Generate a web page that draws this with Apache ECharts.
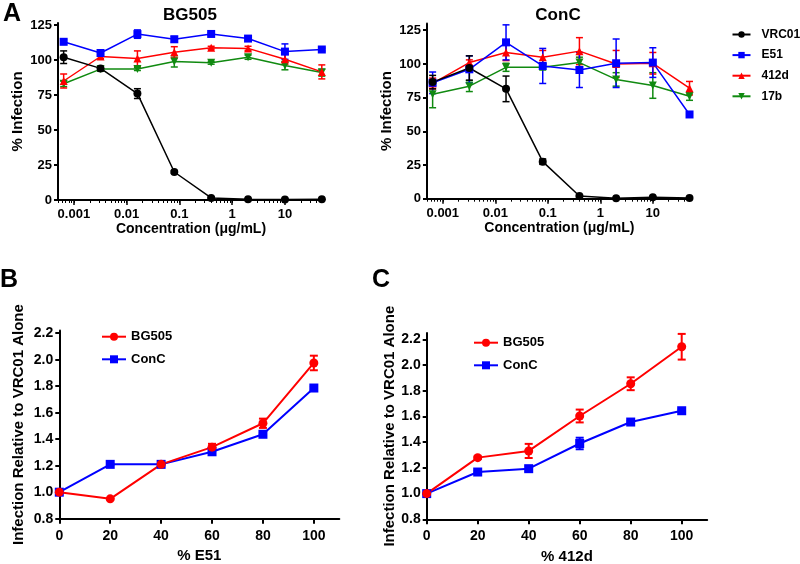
<!DOCTYPE html>
<html><head><meta charset="utf-8">
<script src="https://cdn.jsdelivr.net/npm/echarts@6/dist/echarts.min.js"></script>
<style>html,body{margin:0;padding:0;background:#fff}#c{width:800px;height:564px}</style>
</head><body><div id="c"></div>
<script>
// ---------- DATA ----------
const concentrations = [0.00064, 0.0032, 0.016, 0.08, 0.4, 2, 10, 50];
const antibodies = ['VRC01', 'E51', '412d', '17b'];

// Panel A, BG505 (% infection, mean and SEM)
const bg505_VRC01 = [102, 94, 76, 20, 1.5, 0.5, 0.3, 0.5];
const bg505_VRC01_err = [4.5, 1.5, 3.5, 1, 0.5, 0.3, 0.3, 0.3];
const bg505_E51 = [113, 105, 118.5, 114.8, 118.6, 115.3, 106, 107.5];
const bg505_E51_err = [1.5, 1.5, 3, 2, 1, 1.5, 5.5, 1];
const bg505_412d = [85, 102.5, 101, 105.5, 108.8, 108.3, 100.5, 91.5];
const bg505_412d_err = [5, 1.5, 5.5, 4, 1, 1.5, 3.5, 5];
const bg505_17b = [83, 93.5, 93.5, 99, 98, 102, 96, 91];
const bg505_17b_err = [2, 1.5, 1, 4, 1, 1.5, 3, 2.5];

// Panel A, ConC
const conc_VRC01 = [86.5, 97, 81.5, 27.5, 2, 0.3, 1, 0.5];
const conc_VRC01_err = [5, 9, 9.5, 2, 0.5, 0.3, 0.3, 0.3];
const conc_E51 = [86, 96, 116, 98.5, 95.5, 100.5, 101, 62.5];
const conc_E51_err = [8, 10, 13, 13, 13, 18, 11, 1.5];
const conc_412d = [85.5, 101, 108.5, 105, 109.5, 100, 100.5, 82];
const conc_412d_err = [4, 2, 6, 5, 10, 10, 8, 5];
const conc_17b = [77.5, 83.5, 97.5, 97.5, 101, 88.5, 84, 76];
const conc_17b_err = [10, 4, 3, 2, 4, 5, 9.5, 3];

// Panels B and C
const percents = [0, 20, 40, 60, 80, 100];
const e51_BG505 = [1.0, 0.95, 1.21, 1.34, 1.52, 1.975];
const e51_BG505_err = [0, 0.005, 0.01, 0.025, 0.035, 0.055];
const e51_ConC = [1.0, 1.21, 1.21, 1.305, 1.437, 1.786];
const e51_ConC_err = [0, 0.005, 0.005, 0.01, 0.01, 0.01];
const d412_BG505 = [1.0, 1.28, 1.332, 1.604, 1.855, 2.143];
const d412_BG505_err = [0, 0.01, 0.055, 0.05, 0.05, 0.1];
const d412_ConC = [1.0, 1.168, 1.194, 1.39, 1.557, 1.645];
const d412_ConC_err = [0, 0.01, 0.02, 0.045, 0.01, 0.01];

// Tick values / labels
const yTicksA = [0, 25, 50, 75, 100, 125];
const xTicksA = [0.001, 0.01, 0.1, 1, 10];
const xTickLabelsA = ['0.001', '0.01', '0.1', '1', '10'];
const xMinorTicksA = [];
[0.0001, 0.001, 0.01, 0.1, 1, 10].forEach(d => { for (let m = 2; m <= 9; m++) xMinorTicksA.push(+(d * m).toPrecision(3)); });
const xAllTicksA = xTicksA.concat(xMinorTicksA).sort((a, b) => a - b);
const yTicksBC = [0.8, 1.0, 1.2, 1.4, 1.6, 1.8, 2.0, 2.2];
const yTickLabelsBC = ['0.8', '1.0', '1.2', '1.4', '1.6', '1.8', '2.0', '2.2'];
const xTicksBC = [0, 20, 40, 60, 80, 100];

// ---------- STYLE ----------
const FONT = '"Liberation Sans", Arial, Helvetica, sans-serif';
const COLORS = { VRC01: '#000000', E51: '#0000ff', '412d': '#ff0000', '17b': '#108a10', BG505: '#ff0000', ConC: '#0000ff' };
const SYMBOLS = { VRC01: ['circle', 0], E51: ['rect', 0], '412d': ['triangle', 0], '17b': ['triangle', 180], BG505: ['circle', 0], ConC: ['rect', 0] };

const chart = echarts.init(document.getElementById('c'), null, { renderer: 'canvas' });

const labelStyle = (fs) => ({ fontSize: fs, fontWeight: 'bold', color: '#000', fontFamily: FONT });
const axisLineStyle = { color: '#000', width: 2 };

function logLabel(v) {
  for (let i = 0; i < xTicksA.length; i++) {
    if (v > 0 && Math.abs(Math.log10(v) - Math.log10(xTicksA[i])) < 0.01) return xTickLabelsA[i];
    if (Math.abs(v - Math.log10(xTicksA[i])) < 0.01) return xTickLabelsA[i];
  }
  return '';
}

const xAxes = [];
const yAxes = [];
const grids = [
  { left: 58, top: 22.9, width: 266, height: 177.1 },
  { left: 427, top: 23.5, width: 264.7, height: 175.2 },
  { left: 59.3, top: 330.5, width: 280, height: 188.2 },
  { left: 426.7, top: 333, width: 280.5, height: 186.3 }
].map(g => Object.assign({ containLabel: false, outerBoundsMode: 'none', show: false }, g));

// Panel A axes
[[0, 126.5], [1, 130]].forEach(([gi, ymax]) => {
  xAxes.push({
    type: 'log', logBase: 10, gridIndex: gi, min: 0.0005, max: 55, position: 'bottom',
    name: 'Concentration (\u03bcg/mL)', nameLocation: 'middle', nameGap: 22, nameTextStyle: labelStyle(14),
    axisLine: { show: true, onZero: false, lineStyle: axisLineStyle },
    axisTick: { show: true, customValues: xAllTicksA, length: 3, lineStyle: { color: '#000', width: 1 } },
    axisLabel: { show: true, customValues: xTicksA, formatter: logLabel, margin: 8, hideOverlap: false, ...labelStyle(13) },
    splitLine: { show: false }, minorTick: { show: false }
  });
  xAxes.push({
    type: 'log', logBase: 10, gridIndex: gi, min: 0.0005, max: 55, position: 'bottom', offset: 0,
    axisLine: { show: false, onZero: false },
    axisTick: { show: true, customValues: xTicksA, length: 5, lineStyle: { color: '#000', width: 1.5 } },
    axisLabel: { show: false }, splitLine: { show: false }
  });
  yAxes.push({
    type: 'value', gridIndex: gi, min: 0, max: ymax,
    name: '% Infection', nameLocation: 'middle', nameGap: 33, nameTextStyle: labelStyle(15),
    axisLine: { show: true, onZero: false, lineStyle: axisLineStyle },
    axisTick: { show: true, customValues: yTicksA, length: 4, lineStyle: { color: '#000', width: 2 } },
    axisLabel: { show: true, customValues: yTicksA, margin: 6, ...labelStyle(13) },
    splitLine: { show: false }
  });
});

// Panels B, C axes
[[2, 2.22, '% E51', 33], [3, 2.25, '% 412d', 29]].forEach(([gi, ymax, xname, ygap]) => {
  xAxes.push({
    type: 'value', gridIndex: gi, min: 0, max: 110, position: 'bottom',
    name: xname, nameLocation: 'middle', nameGap: 30, nameTextStyle: labelStyle(15),
    axisLine: { show: true, onZero: false, lineStyle: axisLineStyle },
    axisTick: { show: true, customValues: xTicksBC, length: 5, lineStyle: { color: '#000', width: 2 } },
    axisLabel: { show: true, customValues: xTicksBC, margin: 10, ...labelStyle(14) },
    splitLine: { show: false }
  });
  yAxes.push({
    type: 'value', gridIndex: gi, min: 0.8, max: ymax,
    name: 'Infection Relative to VRC01 Alone', nameLocation: 'middle', nameGap: ygap, nameTextStyle: labelStyle(15),
    axisLine: { show: true, onZero: false, lineStyle: axisLineStyle },
    axisTick: { show: true, customValues: yTicksBC, length: 4, lineStyle: { color: '#000', width: 2 } },
    axisLabel: { show: true, customValues: yTicksBC, margin: 6, ...labelStyle(14),
      formatter: v => { const i = yTicksBC.findIndex(t => Math.abs(t - v) < 1e-6); return i >= 0 ? yTickLabelsBC[i] : ''; } },
    splitLine: { show: false }
  });
});

function errRender(capW, lw) {
  return function (params, api) {
    const x = api.value(0), lo = api.value(1), hi = api.value(2);
    const p1 = api.coord([x, lo]), p2 = api.coord([x, hi]);
    const style = { stroke: api.visual('color'), lineWidth: lw };
    return {
      type: 'group', children: [
        { type: 'line', shape: { x1: p1[0], y1: p1[1], x2: p2[0], y2: p2[1] }, style },
        { type: 'line', shape: { x1: p1[0] - capW, y1: p1[1], x2: p1[0] + capW, y2: p1[1] }, style },
        { type: 'line', shape: { x1: p2[0] - capW, y1: p2[1], x2: p2[0] + capW, y2: p2[1] }, style }
      ]
    };
  };
}

const series = [];
function addSeries(name, xs, ys, errs, xIdx, yIdx, symSize, lw, capW) {
  const color = COLORS[name];
  series.push({
    type: 'custom', name: name + ' error', xAxisIndex: xIdx, yAxisIndex: yIdx,
    itemStyle: { color }, renderItem: errRender(capW, lw), clip: false, z: 2, silent: true,
    encode: { x: 0, y: [1, 2] },
    data: xs.map((x, i) => [x, ys[i] - errs[i], ys[i] + errs[i]])
  });
  series.push({
    type: 'line', name, xAxisIndex: xIdx, yAxisIndex: yIdx,
    symbol: SYMBOLS[name][0], symbolRotate: SYMBOLS[name][1], symbolSize: symSize,
    showAllSymbol: true, animation: false, z: 3,
    itemStyle: { color, opacity: 1 }, lineStyle: { color, width: lw },
    data: xs.map((x, i) => [x, ys[i]])
  });
}

// Panel A: draw 17b, 412d, E51, VRC01 (black on top)
const panelA = [
  { x: 0, y: 0, d: { VRC01: [bg505_VRC01, bg505_VRC01_err], E51: [bg505_E51, bg505_E51_err], '412d': [bg505_412d, bg505_412d_err], '17b': [bg505_17b, bg505_17b_err] } },
  { x: 2, y: 1, d: { VRC01: [conc_VRC01, conc_VRC01_err], E51: [conc_E51, conc_E51_err], '412d': [conc_412d, conc_412d_err], '17b': [conc_17b, conc_17b_err] } }
];
panelA.forEach(p => {
  ['17b', '412d', 'E51', 'VRC01'].forEach(ab => {
    addSeries(ab, concentrations, p.d[ab][0], p.d[ab][1], p.x, p.y, 8, 1.5, 3.5);
  });
});
// Panels B, C
addSeries('ConC', percents, e51_ConC, e51_ConC_err, 4, 2, 9, 2, 4);
addSeries('BG505', percents, e51_BG505, e51_BG505_err, 4, 2, 9, 2, 4);
addSeries('ConC', percents, d412_ConC, d412_ConC_err, 5, 3, 9, 2, 4);
addSeries('BG505', percents, d412_BG505, d412_BG505_err, 5, 3, 9, 2, 4);

const legendTextA = { fontSize: 12, fontWeight: 'bold', color: '#000', fontFamily: FONT, lineHeight: 14, padding: [0, 0, 0, 6] };
const legendText = { fontSize: 13, fontWeight: 'bold', color: '#000', fontFamily: FONT, lineHeight: 14 };
const legends = [
  { data: antibodies, orient: 'vertical', left: 731.5, top: 27.5, padding: 0, itemWidth: 18, itemHeight: 8, itemGap: 6.6, textStyle: legendTextA, selectedMode: false },
  { data: ['BG505', 'ConC'], orient: 'vertical', left: 101, top: 329.7, padding: 0, itemWidth: 24, itemHeight: 10, itemGap: 8.6, textStyle: legendText, selectedMode: false },
  { data: ['BG505', 'ConC'], orient: 'vertical', left: 473, top: 335.7, padding: 0, itemWidth: 24, itemHeight: 10, itemGap: 8.6, textStyle: legendText, selectedMode: false }
];

function gtext(text, x, y, size) {
  return { type: 'text', x, y, style: { text, font: 'bold ' + size + 'px ' + FONT, fill: '#000', align: 'center', verticalAlign: 'middle', textAlign: 'center', textVerticalAlign: 'middle' } };
}

chart.setOption({
  animation: false,
  backgroundColor: '#fff',
  textStyle: { fontFamily: FONT },
  grid: grids,
  xAxis: xAxes,
  yAxis: yAxes,
  legend: legends,
  series,
  graphic: [
    gtext('A', 12, 14, 25),
    gtext('BG505', 190, 15, 17),
    gtext('ConC', 558, 15, 17),
    gtext('B', 9, 280, 25),
    gtext('C', 381, 280, 25)
  ]
});
</script>
</body></html>
